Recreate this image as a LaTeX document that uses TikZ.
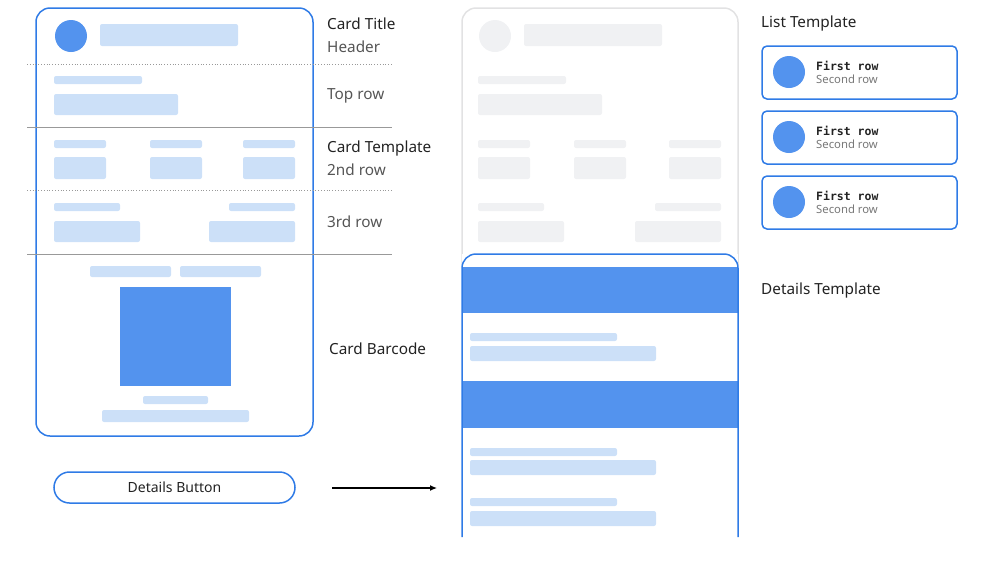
\documentclass[tikz,border=0pt]{standalone}
\usepackage{fontspec}
\usetikzlibrary{arrows.meta}
\setmainfont{Noto Sans}
\setmonofont{DejaVu Sans Mono}
\begin{document}
\begin{tikzpicture}[x=1pt,y=-1pt,
  lb/.style={fill=lightblue,rounded corners=2pt},
  gb/.style={fill=lightgray,rounded corners=2pt},
  frame/.style={draw=mainblue,line width=1.5pt,rounded corners=14pt},
  lab/.style={anchor=west,inner sep=0,font=\fontsize{15.3}{17}\selectfont,text=txt},
  sub/.style={anchor=west,inner sep=0,font=\fontsize{15.3}{17}\selectfont,text=subtxt},
  sep/.style={draw=gray!80,line width=0.8pt}]
\definecolor{mainblue}{HTML}{2F7BE6}
\definecolor{fillblue}{HTML}{5393EE}
\definecolor{lightblue}{HTML}{CCE0F8}
\definecolor{lightgray}{HTML}{F0F1F3}
\definecolor{txt}{HTML}{222222}
\definecolor{subtxt}{HTML}{555555}
\useasboundingbox (0,0) rectangle (985,563);
% left card
\draw[frame] (36,8) rectangle (313,436);
\fill[fillblue] (71,36) circle (16);
\fill[lb] (100,24) rectangle (238,46);
\draw[sep,dotted] (27,64) -- (392,64);
\fill[lb] (54,76) rectangle (142,84);
\fill[lb] (54,94) rectangle (178,115);
\draw[sep] (27,127) -- (392,127);
\foreach \a/\b in {54/106,150/202,243/295}{
  \fill[lb] (\a,140) rectangle (\b,148);
  \fill[lb] (\a,157) rectangle (\b,179);}
\draw[sep,dotted] (27,190) -- (392,190);
\fill[lb] (54,203) rectangle (120,211);
\fill[lb] (229,203) rectangle (295,211);
\fill[lb] (54,221) rectangle (140,242);
\fill[lb] (209,221) rectangle (295,242);
\draw[sep] (27,254) -- (392,254);
\fill[lb] (90,266) rectangle (171,277);
\fill[lb] (180,266) rectangle (261,277);
\fill[fillblue] (120,287) rectangle (231,386);
\fill[lb] (143,396) rectangle (208,404);
\fill[lb] (102,410) rectangle (249,422);
\node[lab] (t1) at (327,24) {Card Title};
\node[sub] (t2) at (327,47) {Header};
\node[sub] (t3) at (327,96) {Top row};
\node[lab] (t4) at (327,149) {Card Template};
\node[sub] (t5) at (327,170) {2nd row};
\node[sub] (t6) at (327,222) {3rd row};
\node[lab] (t7) at (329,349) {Card Barcode};
% button
\node[draw=mainblue,line width=1.5pt,rounded corners=15.5pt,minimum width=241pt,minimum height=31pt,font=\fontsize{14}{15}\selectfont,text=txt] (btn) at (174.5,487.5) {Details Button};
\coordinate (a1) at (332,488);
\coordinate (a2) at (437,488);
\draw[-{Latex[length=7pt,width=6pt]},line width=1.2pt] (a1) -- (a2);
% middle card
\draw[draw=lightgray!70!gray!60,line width=1.5pt,rounded corners=14pt] (462,265) -- (462,8) -- (738,8) -- (738,265);
\fill[lightgray] (495,36) circle (16);
\fill[gb] (524,24) rectangle (662,46);
\fill[gb] (478,76) rectangle (566,84);
\fill[gb] (478,94) rectangle (602,115);
\foreach \a/\b in {478/530,574/626,669/721}{
  \fill[gb] (\a,140) rectangle (\b,148);
  \fill[gb] (\a,157) rectangle (\b,179);}
\fill[gb] (478,203) rectangle (544,211);
\fill[gb] (655,203) rectangle (721,211);
\fill[gb] (478,221) rectangle (564,242);
\fill[gb] (635,221) rectangle (721,242);
\fill[white] (462,254) rectangle (738,270);
\fill[fillblue] (462,267) rectangle (738,313);
\fill[fillblue] (462,381) rectangle (738,428);
\fill[lb] (470,333) rectangle (617,341);
\fill[lb] (470,346) rectangle (656,361);
\fill[lb] (470,448) rectangle (617,456);
\fill[lb] (470,460) rectangle (656,475);
\fill[lb] (470,498) rectangle (617,506);
\fill[lb] (470,511) rectangle (656,526);
\draw[frame] (462,537) -- (462,254) -- (738,254) -- (738,537);
% right
\node[lab] (lt) at (761,24) {List Template};
\foreach \y in {46,111,176}{
  \draw[draw=mainblue,line width=1.5pt,rounded corners=5pt] (762,\y) rectangle (957,\y+53);
  \fill[fillblue] (789,\y+26) circle (16);
  \node[anchor=west,inner sep=0,font=\ttfamily\bfseries\fontsize{11.5}{12}\selectfont,text=txt] at (816,\y+19.5) {First row};
  \node[anchor=west,inner sep=0,font=\fontsize{11.3}{12}\selectfont,text=subtxt!80] at (816,\y+33) {Second row};}
\node[lab] (dt) at (761,291) {Details Template};
\end{tikzpicture}
\end{document}
